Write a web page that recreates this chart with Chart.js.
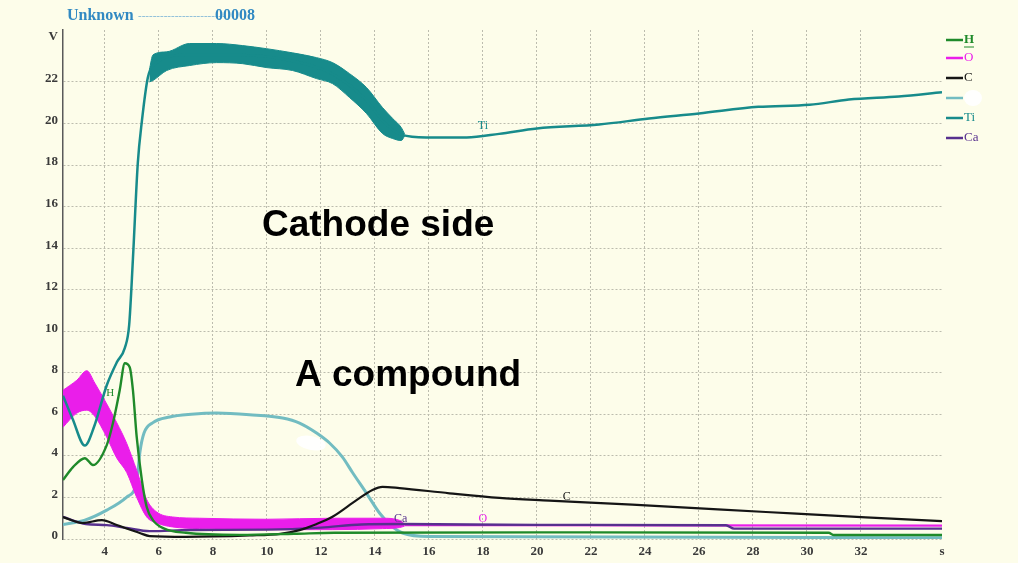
<!DOCTYPE html>
<html>
<head>
<meta charset="utf-8">
<script src="https://cdn.jsdelivr.net/npm/chart.js@4"></script>
<style>
  html, body { margin: 0; padding: 0; background: #fdfdea; }
  #wrap { position: relative; width: 1018px; height: 563px; }
</style>
</head>
<body>
<div id="wrap"><canvas id="depthChart"></canvas></div>
<script>
// tick positions (seconds / volts)
const xTicks = [4, 6, 8, 10, 12, 14, 16, 18, 20, 22, 24, 26, 28, 30, 32, 35];
const yTicks = [0, 2, 4, 6, 8, 10, 12, 14, 16, 18, 20, 22];

// Ti: main trace plus the noisy plateau envelope
const tiLine = [[2.45, 6.9], [2.8, 5.8], [3.26, 4.5], [3.6, 5.4], [4.07, 7.4], [4.44, 8.5], [4.74, 9.2], [4.9, 10.3], [5.04, 13.5], [5.22, 18.1], [5.37, 20.1], [5.59, 22.2], [5.8, 22.8], [7, 23.3], [9, 23.3], [11, 23.0], [12.4, 22.4], [13.7, 21.1], [14.3, 20.1], [15, 19.45], [15.9, 19.33], [17.4, 19.33], [18.6, 19.5], [20, 19.76], [22.3, 19.95], [24.15, 20.24], [26, 20.48], [28.2, 20.8], [30.1, 20.9], [31.55, 21.15], [33.4, 21.3], [35, 21.5]];
const tiNoiseHi = [[5.65, 22.6], [5.78, 23.3], [6.29, 23.45], [7.14, 23.85], [8.14, 23.85], [9.1, 23.75], [9.99, 23.6], [10.95, 23.4], [11.84, 23.17], [12.43, 22.93], [13.06, 22.4], [13.69, 21.73], [14.28, 20.77], [14.65, 20.25], [14.98, 19.8], [15.1, 19.5]];
const tiNoiseLo = [[5.65, 22.0], [5.78, 22.07], [6.29, 22.55], [7.14, 22.79], [8.14, 22.93], [9.1, 22.88], [9.99, 22.69], [10.95, 22.55], [11.84, 22.16], [12.43, 21.92], [13.06, 21.25], [13.69, 20.48], [14.28, 19.52], [14.65, 19.28], [14.98, 19.18], [15.1, 19.4]];

// O: noisy band then flat trace
const oNoiseHi = [[2.45, 7.16], [2.96, 7.64], [3.33, 8.1], [3.63, 7.5], [4.07, 6.5], [4.44, 5.6], [4.81, 4.6], [5.18, 3.3], [5.55, 1.9], [5.92, 1.3], [6.51, 1.06], [7.51, 1.0], [9.99, 0.95], [12.43, 1.0], [14.28, 1.0], [14.91, 0.9], [15.1, 0.72]];
const oNoiseLo = [[2.45, 5.38], [2.96, 6.06], [3.33, 6.2], [3.63, 5.9], [4.07, 4.9], [4.44, 3.9], [4.81, 3.2], [5.18, 2.0], [5.55, 1.06], [5.92, 0.77], [6.51, 0.58], [7.51, 0.5], [9.99, 0.45], [12.43, 0.45], [14.28, 0.5], [14.91, 0.55], [15.1, 0.62]];
const oLine = [[15.1, 0.67], [25, 0.66], [35, 0.64]];

const hLine = [[2.45, 2.84], [2.82, 3.46], [3.26, 3.89], [3.56, 3.56], [4.07, 4.52], [4.3, 5.58], [4.55, 7.16], [4.74, 8.46], [4.92, 8.27], [5.04, 7.16], [5.18, 4.9], [5.37, 2.84], [5.55, 1.54], [5.78, 0.91], [6.2, 0.5], [7, 0.3], [9, 0.2], [11, 0.25], [12.5, 0.3], [20, 0.32], [30.8, 0.3], [31, 0.19], [35, 0.19]];
const cLine = [[2.45, 1.06], [3.19, 0.77], [3.89, 0.91], [4.44, 0.67], [5.29, 0.29], [5.66, 0.14], [7, 0.1], [9.36, 0.17], [10.5, 0.25], [11.21, 0.43], [11.8, 0.7], [12.43, 1.07], [13.32, 1.87], [13.91, 2.36], [14.28, 2.51], [14.91, 2.45], [16.76, 2.2], [18.61, 1.98], [20.46, 1.85], [23.53, 1.65], [28.48, 1.3], [32.18, 1.04], [35, 0.86]];
const caLine = [[2.45, 1.06], [3.3, 0.72], [4.07, 0.67], [4.81, 0.53], [5.66, 0.38], [7.14, 0.43], [10, 0.45], [12, 0.55], [13.5, 0.7], [15, 0.72], [20, 0.68], [27, 0.66], [27.3, 0.5], [35, 0.5]];
const unnamedLine = [[2.45, 0.7], [3.26, 0.91], [4.07, 1.39], [4.81, 2.02], [5.18, 2.75], [5.3, 4.2], [5.45, 5.1], [5.78, 5.6], [6.4, 5.87], [7.2, 6.0], [8.14, 6.06], [9.36, 5.98], [10.58, 5.82], [11.21, 5.58], [11.84, 5.1], [12.32, 4.62], [12.8, 3.94], [13.17, 3.2], [13.69, 2.2], [14.17, 1.25], [14.65, 0.58], [15.02, 0.29], [16, 0.12], [35, 0.06]];

const TEAL = "#178b8b";
const TEAL_LIGHT = "#72bcc1";
const GREEN = "#1f8a2a";
const MAGENTA = "#ea1eea";
const BLACK = "#151515";
const PURPLE = "#57308e";
const GRID = "#bcbcae";

const pts = (arr) => arr.map(([x, y]) => ({ x: x, y: y }));

function line(data, color, width, extra) {
  return Object.assign({
    data: pts(data),
    borderColor: color,
    backgroundColor: color,
    borderWidth: width,
    pointRadius: 0,
    cubicInterpolationMode: "monotone",
    fill: false,
  }, extra || {});
}

const overlay = {
  id: "overlay",
  afterDraw(chart) {
    const ctx = chart.ctx;
    const x = chart.scales.x;
    const y = chart.scales.y;
    ctx.save();

    // white smudge over the light teal trace
    ctx.fillStyle = "rgba(255,255,255,0.92)";
    ctx.beginPath();
    ctx.ellipse(311, 443, 15, 7, 0.2, 0, Math.PI * 2);
    ctx.fill();

    // header
    ctx.textBaseline = "middle";
    ctx.fillStyle = "#3189c2";
    ctx.font = "bold 16px 'Liberation Serif'";
    ctx.fillText("Unknown", 67, 16);
    ctx.font = "11px 'Liberation Serif'";
    ctx.fillStyle = "#7ab3d6";
    ctx.fillText("------------------------", 138, 16);
    ctx.fillStyle = "#3189c2";
    ctx.font = "bold 16px 'Liberation Serif'";
    ctx.fillText("00008", 215, 16);

    // axis unit
    ctx.fillStyle = "#3a3a3a";
    ctx.font = "bold 13px 'Liberation Serif'";
    ctx.textAlign = "right";
    ctx.fillText("V", 58, 37);

    // big annotations
    ctx.textAlign = "left";
    ctx.fillStyle = "#000";
    ctx.font = "bold 37px 'Liberation Sans'";
    ctx.fillText("Cathode side", 262, 226);
    ctx.fillText("A compound", 295, 376);

    // trace labels
    ctx.font = "12px 'Liberation Serif'";
    ctx.textAlign = "center";
    ctx.fillStyle = TEAL;
    ctx.fillText("Ti", x.getPixelForValue(18), y.getPixelForValue(19.9));
    ctx.fillStyle = BLACK;
    ctx.fillText("C", x.getPixelForValue(21.1), y.getPixelForValue(2.05));
    ctx.fillStyle = PURPLE;
    ctx.fillText("Ca", x.getPixelForValue(14.95), y.getPixelForValue(0.96));
    ctx.fillStyle = MAGENTA;
    ctx.fillText("O", x.getPixelForValue(18), y.getPixelForValue(0.96));
    ctx.fillStyle = GREEN;
    ctx.font = "11px 'Liberation Serif'";
    ctx.fillText("H", x.getPixelForValue(4.2), y.getPixelForValue(7.0));

    // legend
    const items = [
      { label: "H", color: GREEN, y: 40 },
      { label: "O", color: MAGENTA, y: 58 },
      { label: "C", color: BLACK, y: 78 },
      { label: "", color: TEAL_LIGHT, y: 98 },
      { label: "Ti", color: TEAL, y: 118 },
      { label: "Ca", color: PURPLE, y: 138 },
    ];
    ctx.textAlign = "left";
    items.forEach((it) => {
      ctx.strokeStyle = it.color;
      ctx.lineWidth = 2.5;
      ctx.beginPath();
      ctx.moveTo(946, it.y);
      ctx.lineTo(963, it.y);
      ctx.stroke();
      ctx.fillStyle = it.color;
      ctx.font = (it.label === "H" ? "bold " : "") + "13px 'Liberation Serif'";
      if (it.label) {
        ctx.fillText(it.label, 964, it.y);
      } else {
        ctx.fillStyle = "rgba(255,255,255,0.95)";
        ctx.beginPath();
        ctx.ellipse(973, it.y, 9, 8, 0, 0, Math.PI * 2);
        ctx.fill();
      }
      if (it.label === "H") {
        ctx.lineWidth = 1;
        ctx.beginPath();
        ctx.moveTo(964, it.y + 7);
        ctx.lineTo(974, it.y + 7);
        ctx.stroke();
      }
    });
    ctx.restore();
  },
};

const ctx = document.getElementById("depthChart").getContext("2d");
const depthChart = new Chart(ctx, {
  type: "line",
  data: {
    datasets: [
      line(tiLine, TEAL, 2.5),
      line(tiNoiseHi, TEAL, 1, { fill: "+1", backgroundColor: TEAL }),
      line(tiNoiseLo, TEAL, 1),
      line(hLine, GREEN, 2.4),
      line(cLine, BLACK, 2.2),
      line(caLine, PURPLE, 2.4),
      line(oLine, MAGENTA, 2.2),
      line(oNoiseHi, MAGENTA, 1, { fill: "+1", backgroundColor: MAGENTA }),
      line(oNoiseLo, MAGENTA, 1),
      line(unnamedLine, TEAL_LIGHT, 3),
    ],
  },
  options: {
    responsive: true,
    maintainAspectRatio: false,
    devicePixelRatio: 1,
    animation: false,
    layout: { padding: { left: 0, top: 30, right: 76, bottom: 0 } },
    plugins: {
      legend: { display: false },
      tooltip: { enabled: false },
    },
    scales: {
      x: {
        type: "linear",
        min: 2.45,
        max: 35,
        afterBuildTicks: (scale) => {
          scale.ticks = xTicks.map((v) => ({ value: v }));
        },
        afterFit: (scale) => {
          scale.height = 24;
        },
        ticks: {
          autoSkip: false,
          maxRotation: 0,
          padding: 5,
          color: "#3a3a3a",
          font: { family: "'Liberation Serif'", size: 13, weight: "bold" },
          callback: (v) => (v === 35 ? "s" : v),
        },
        grid: {
          drawTicks: false,
          color: (c) => (c.tick && c.tick.value === 35 ? "rgba(0,0,0,0)" : GRID),
          lineWidth: 1,
        },
        border: { display: false, dash: [2, 2] },
      },
      y: {
        min: 0,
        max: 24.5,
        afterBuildTicks: (scale) => {
          scale.ticks = yTicks.map((v) => ({ value: v }));
        },
        afterFit: (scale) => {
          scale.width = 63;
        },
        ticks: {
          padding: 5,
          labelOffset: -3,
          color: "#3a3a3a",
          font: { family: "'Liberation Serif'", size: 13, weight: "bold" },
        },
        grid: {
          drawTicks: false,
          color: GRID,
          lineWidth: 1,
        },
        border: { display: true, color: "#5a5a5a", width: 1.5, dash: [2, 2] },
      },
    },
  },
  plugins: [overlay],
});
</script>
</body>
</html>
